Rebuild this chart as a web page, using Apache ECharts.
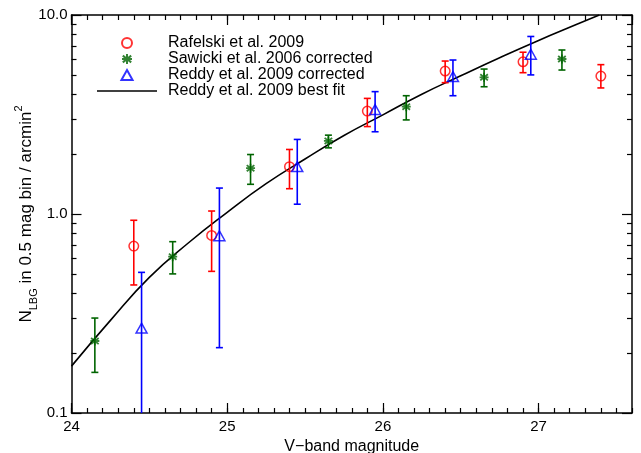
<!DOCTYPE html>
<html>
<head>
<meta charset="utf-8">
<script src="https://cdn.jsdelivr.net/npm/echarts@6/dist/echarts.min.js"></script>
<style>
  html, body { margin: 0; padding: 0; background: #fff; }
  #chart { width: 641px; height: 453px; }
</style>
</head>
<body>
<div id="chart"></div>
<script>
// Lyman-break galaxy number counts per 0.5 mag bin

// Rafelski et al. 2009
const magRafelski = [24.4, 24.9, 25.4, 25.9, 26.4, 26.9, 27.4];
const nRafelski   = [0.69, 0.78, 1.73, 3.29, 5.23, 5.82, 4.93];
const loRafelski  = [0.44, 0.515, 1.34, 2.75, 4.57, 5.13, 4.30];
const hiRafelski  = [0.93, 1.035, 2.11, 3.81, 5.87, 6.50, 5.63];

// Sawicki et al. 2006 (corrected)
const magSawicki = [24.15, 24.65, 25.15, 25.65, 26.15, 26.65, 27.15];
const nSawicki   = [0.23, 0.61, 1.70, 2.33, 3.46, 4.86, 6.01];
const loSawicki  = [0.16, 0.50, 1.41, 2.15, 2.97, 4.36, 5.29];
const hiSawicki  = [0.30, 0.726, 1.99, 2.49, 3.93, 5.35, 6.67];

// Reddy et al. 2009 (corrected)
const magReddy = [24.45, 24.95, 25.45, 25.95, 26.45, 26.95];
const nReddy   = [0.267, 0.777, 1.73, 3.35, 4.90, 6.35];
const loReddy  = [0.05, 0.213, 1.12, 2.59, 3.93, 5.0];
const hiReddy  = [0.509, 1.35, 2.37, 4.12, 5.94, 7.80];

// Reddy et al. 2009 best-fit curve, sampled
const fitMag = [24.0, 24.25, 24.5, 24.75, 25.0, 25.25, 25.5, 25.75, 26.0, 26.25, 26.5, 26.75, 27.0, 27.25, 27.39];
const fitN   = [0.172, 0.292, 0.48, 0.715, 1.02, 1.42, 1.89, 2.48, 3.15, 4.0, 4.95, 6.1, 7.45, 9.0, 10.0];

const xTicks = [24, 25, 26, 27];
const yTicks = [0.1, 1, 10];
const yMinorTicks = [0.2, 0.3, 0.4, 0.5, 0.6, 0.7, 0.8, 0.9, 2, 3, 4, 5, 6, 7, 8, 9];

const RED = '#ff0000', GREEN = '#006400', BLUE = '#0000ff', BLACK = '#000000';
const FONT = '"Liberation Sans", Arial, Helvetica, sans-serif';
const ASTERISK = 'path://M5,0L5,10M0.8,1.6L9.2,8.4M0.8,8.4L9.2,1.6M0,5L10,5';
const TRIANGLE = 'path://M5,0L10,9L0,9Z';
const LEGEND_LINE = 'path://M0,0L60,0L60,1.6L0,1.6Z';

function errorBars(color) {
  return function (params, api) {
    const x = api.value(0);
    const pLo = api.coord([x, api.value(1)]);
    const pHi = api.coord([x, api.value(2)]);
    const half = 3.5;
    const style = { stroke: color, lineWidth: 1.6 };
    return {
      type: 'group',
      children: [
        { type: 'line', shape: { x1: pLo[0], y1: pLo[1], x2: pHi[0], y2: pHi[1] }, style: style },
        { type: 'line', shape: { x1: pHi[0] - half, y1: pHi[1], x2: pHi[0] + half, y2: pHi[1] }, style: style },
        { type: 'line', shape: { x1: pLo[0] - half, y1: pLo[1], x2: pLo[0] + half, y2: pLo[1] }, style: style }
      ]
    };
  };
}

const axisLineStyle = { color: BLACK, width: 1.5 };
const tickLineStyle = { color: BLACK, width: 1.2 };

function xAxisDef(position, major, withLabels) {
  return {
    type: 'value', min: 24, max: 27.6, interval: major ? 1 : 0.1, position: position,
    axisLine: { show: major, onZero: false, lineStyle: axisLineStyle },
    axisTick: { show: true, inside: true, length: major ? 10 : 5, lineStyle: tickLineStyle },
    axisLabel: withLabels ? {
      show: true, color: BLACK, fontSize: 15, fontFamily: FONT, margin: 6, showMaxLabel: false,
      formatter: v => (xTicks.indexOf(v) >= 0 ? String(v) : '')
    } : { show: false },
    splitLine: { show: false }
  };
}

function yAxisDef(position, major, withLabels) {
  return {
    type: 'log', logBase: 10, min: 0.1, max: 10, position: position,
    axisLine: { show: major, onZero: false, lineStyle: axisLineStyle },
    axisTick: major
      ? { show: true, inside: true, length: 10, lineStyle: tickLineStyle }
      : { show: true, inside: true, length: 5, lineStyle: tickLineStyle, customValues: yMinorTicks },
    axisLabel: withLabels ? {
      show: true, color: BLACK, fontSize: 15, fontFamily: FONT, margin: 4,
      formatter: v => (yTicks.some(t => Math.abs(t - v) < 1e-9) ? Number(v).toFixed(1) : '')
    } : { show: false },
    splitLine: { show: false }
  };
}

const xBottom = xAxisDef('bottom', true, true);
xBottom.name = 'V\u2212band magnitude';
xBottom.nameLocation = 'middle';
xBottom.nameGap = 26;
xBottom.nameTextStyle = { color: BLACK, fontSize: 16, fontFamily: FONT };

const yLeft = yAxisDef('left', true, true);
yLeft.name = '{a|N}{s|LBG}{a| in 0.5 mag bin / arcmin}{p|2}';
yLeft.nameLocation = 'middle';
yLeft.nameRotate = 90;
yLeft.nameGap = 32;
yLeft.nameMoveOverlap = false;
yLeft.nameTextStyle = {
  color: BLACK, fontFamily: FONT,
  rich: {
    a: { fontSize: 17, lineHeight: 17, verticalAlign: 'bottom', padding: [0, 0, 5, 0], color: BLACK, fontFamily: FONT },
    s: { fontSize: 11, lineHeight: 11, verticalAlign: 'bottom', color: BLACK, fontFamily: FONT },
    p: { fontSize: 11, lineHeight: 11, verticalAlign: 'bottom', padding: [0, 0, 15, 0], color: BLACK, fontFamily: FONT }
  }
};

const chart = echarts.init(document.getElementById('chart'), null, { renderer: 'canvas' });

chart.setOption({
  animation: false,
  backgroundColor: '#ffffff',
  grid: { left: 71.5, right: 9, top: 15, bottom: 40, containLabel: false, outerBoundsMode: 'none' },
  legend: {
    data: [
      'Rafelski et al. 2009',
      'Sawicki et al. 2006 corrected',
      { name: 'Reddy et al. 2009 corrected', icon: TRIANGLE },
      { name: 'Reddy et al. 2009 best fit', icon: LEGEND_LINE, itemStyle: { color: BLACK } }
    ],
    orient: 'vertical', left: 97, top: 35, align: 'left', padding: 0,
    itemWidth: 60, itemHeight: 10, itemGap: 0,
    textStyle: { color: BLACK, fontSize: 16, fontFamily: FONT, lineHeight: 15.5, padding: [0, 0, 0, 6] },
    selectedMode: false
  },
  xAxis: [
    xBottom,
    xAxisDef('bottom', false, false),
    xAxisDef('top', true, false),
    xAxisDef('top', false, false)
  ],
  yAxis: [
    yLeft,
    yAxisDef('left', false, false),
    yAxisDef('right', true, false),
    yAxisDef('right', false, false)
  ],
  series: [
    {
      name: 'Reddy et al. 2009 best fit', type: 'line', smooth: true, symbol: 'none',
      data: fitMag.map((m, i) => [m, fitN[i]]),
      lineStyle: { color: BLACK, width: 1.6 }, itemStyle: { color: BLACK }, clip: true, z: 2
    },
    {
      name: 'errRafelski', type: 'custom', renderItem: errorBars(RED), clip: true,
      encode: { x: 0, y: [1, 2] }, data: magRafelski.map((m, i) => [m, loRafelski[i], hiRafelski[i]]), z: 3
    },
    {
      name: 'errSawicki', type: 'custom', renderItem: errorBars(GREEN), clip: true,
      encode: { x: 0, y: [1, 2] }, data: magSawicki.map((m, i) => [m, loSawicki[i], hiSawicki[i]]), z: 3
    },
    {
      name: 'errReddy', type: 'custom', renderItem: errorBars(BLUE), clip: true,
      encode: { x: 0, y: [1, 2] }, data: magReddy.map((m, i) => [m, loReddy[i], hiReddy[i]]), z: 3
    },
    {
      name: 'Rafelski et al. 2009', type: 'scatter', symbol: 'circle', symbolSize: 9.5,
      data: magRafelski.map((m, i) => [m, nRafelski[i]]),
      itemStyle: { color: 'rgba(0,0,0,0)', borderColor: RED, borderWidth: 1.5 }, z: 4
    },
    {
      name: 'Sawicki et al. 2006 corrected', type: 'scatter', symbol: ASTERISK, symbolSize: 9,
      symbolKeepAspect: true,
      data: magSawicki.map((m, i) => [m, nSawicki[i]]),
      itemStyle: { color: GREEN, borderColor: GREEN, borderWidth: 1.8 }, z: 4
    },
    {
      name: 'Reddy et al. 2009 corrected', type: 'scatter', symbol: TRIANGLE, symbolSize: 11,
      symbolKeepAspect: true,
      data: magReddy.map((m, i) => [m, nReddy[i]]),
      itemStyle: { color: 'rgba(0,0,0,0)', borderColor: BLUE, borderWidth: 1.5 }, z: 4
    }
  ]
});
</script>
</body>
</html>
